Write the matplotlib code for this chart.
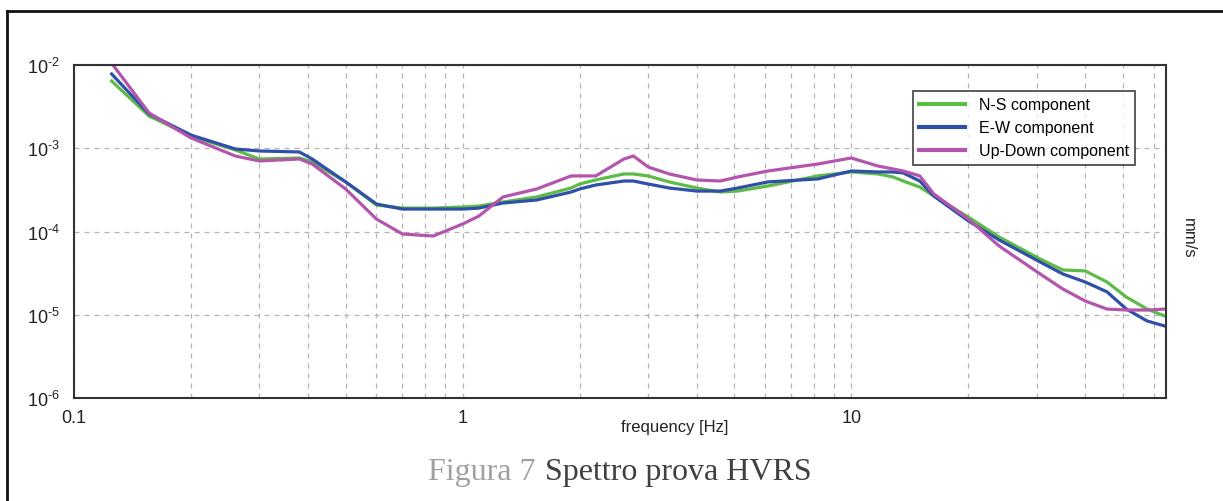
import matplotlib
matplotlib.use("Agg")
from matplotlib import pyplot as plt
from matplotlib.lines import Line2D
from matplotlib.ticker import LogLocator, NullFormatter

plt.rcParams['font.family'] = ['Liberation Sans', 'DejaVu Sans']
plt.rcParams['mathtext.fontset'] = 'custom'
plt.rcParams['mathtext.rm'] = 'Liberation Sans'
plt.rcParams['mathtext.it'] = 'Liberation Sans'

# Frequencies [Hz] sampled along the curves
freq = [0.125, 0.156, 0.2, 0.26, 0.3, 0.38, 0.41, 0.5, 0.6, 0.7, 0.84, 1.0, 1.1,
        1.27, 1.55, 1.9, 2.0, 2.2, 2.6, 2.75, 3.0, 3.4, 4.0, 4.6, 5.1, 6.1, 8.2,
        10, 11.7, 12.8, 13.6, 15, 16.3, 20, 24, 30.6, 35, 40, 45.5, 51, 57.7, 64]

# Amplitude [mm/s]
ns_comp = [6.42e-3, 2.44e-3, 1.40e-3, 9.53e-4, 7.43e-4, 7.64e-4, 6.84e-4, 3.94e-4,
           2.08e-4, 1.91e-4, 1.91e-4, 1.97e-4, 2.02e-4, 2.26e-4, 2.60e-4, 3.33e-4,
           3.72e-4, 4.16e-4, 4.91e-4, 4.91e-4, 4.65e-4, 3.94e-4, 3.33e-4, 2.98e-4,
           3.06e-4, 3.52e-4, 4.65e-4, 5.19e-4, 4.91e-4, 4.52e-4, 4.04e-4, 3.42e-4,
           2.67e-4, 1.49e-4, 8.59e-5, 4.67e-5, 3.45e-5, 3.36e-5, 2.47e-5, 1.63e-5,
           1.17e-5, 9.66e-6]
ew_comp = [7.80e-3, 2.58e-3, 1.44e-3, 9.80e-4, 9.27e-4, 9.02e-4, 7.43e-4, 3.94e-4,
           2.14e-4, 1.86e-4, 1.86e-4, 1.86e-4, 1.91e-4, 2.20e-4, 2.39e-4, 2.98e-4,
           3.24e-4, 3.62e-4, 4.04e-4, 4.04e-4, 3.72e-4, 3.33e-4, 3.06e-4, 3.06e-4,
           3.33e-4, 3.94e-4, 4.28e-4, 5.33e-4, 5.19e-4, 5.19e-4, 5.05e-4, 4.04e-4,
           2.67e-4, 1.34e-4, 7.91e-5, 4.30e-5, 3.09e-5, 2.47e-5, 1.88e-5, 1.17e-5,
           8.41e-6, 7.33e-6]
ud_comp = [1.05e-2, 2.65e-3, 1.33e-3, 8.07e-4, 7.03e-4, 7.43e-4, 6.47e-4, 3.24e-4,
           1.41e-4, 9.33e-5, 8.83e-5, 1.23e-4, 1.53e-4, 2.60e-4, 3.24e-4, 4.65e-4,
           4.65e-4, 4.65e-4, 7.43e-4, 8.07e-4, 5.96e-4, 4.91e-4, 4.16e-4, 4.04e-4,
           4.52e-4, 5.33e-4, 6.47e-4, 7.64e-4, 6.12e-4, 5.64e-4, 5.33e-4, 4.65e-4,
           2.82e-4, 1.41e-4, 6.70e-5, 3.09e-5, 2.04e-5, 1.46e-5, 1.17e-5, 1.14e-5,
           1.14e-5, 1.17e-5]

labels = ['N-S component', 'E-W component', 'Up-Down component']
colors = ['#5cbc46', '#2f4fa8', '#b455ad']

W, H = 1223, 502
fig = plt.figure(figsize=(W / 100, H / 100), dpi=100)
ax = fig.add_axes([74 / W, 1 - 399 / H, (1166 - 74) / W, (399 - 66) / H])

for vals, lab, col in zip([ns_comp, ew_comp, ud_comp], labels, colors):
    ax.plot(freq, vals, color=col, lw=2.3, label=lab, solid_joinstyle='round')

ax.set_xscale('log')
ax.set_yscale('log')
ax.set_xlim(0.1, 64.5)
ax.set_ylim(1e-6, 1e-2)

ax.xaxis.set_minor_locator(LogLocator(base=10, subs=range(2, 10), numticks=20))
ax.xaxis.set_minor_formatter(NullFormatter())
ax.set_xticks([0.1, 1, 10])
ax.set_xticklabels(['0.1', '1', '10'])
ax.set_yticks([1e-6, 1e-5, 1e-4, 1e-3, 1e-2])
ax.set_yticklabels([r'$10^{\text{-}6}$', r'$10^{\text{-}5}$', r'$10^{\text{-}4}$',
                    r'$10^{\text{-}3}$', r'$10^{\text{-}2}$'])
ax.yaxis.set_minor_locator(plt.NullLocator())

ax.tick_params(which='both', length=0, labelsize=13, colors='#222222')
ax.tick_params(axis='x', pad=8)
ax.tick_params(axis='y', pad=10)

grid_kw = dict(color='#b4b4b4', linestyle=(0, (4, 4)), linewidth=0.9)
ax.grid(True, which='major', axis='both', **grid_kw)
ax.grid(True, which='minor', axis='x', **grid_kw)

for sp in ax.spines.values():
    sp.set_color('#333333')
    sp.set_linewidth(1.5)

leg = ax.legend(loc='upper left', bbox_to_anchor=(0.768, 0.922), borderaxespad=0,
                fancybox=False, frameon=True, edgecolor='#111111', fontsize=11.5,
                handlelength=2.9, handletextpad=0.85, labelspacing=0.5,
                borderpad=0.4)
leg.get_frame().set_linewidth(1.2)
for line in leg.get_lines():
    line.set_linewidth(3)

fig.text(675 / W, 1 - 428 / H, 'frequency [Hz]', ha='center', va='center',
         fontsize=12, color='#222222')
fig.text(1188 / W, 1 - 238 / H, 'mm/s', ha='center', va='center', rotation=270,
         fontsize=12, color='#222222')

# caption below the chart
fig.text(428 / W, 1 - 480 / H, 'Figura 7', ha='left', va='baseline',
         fontsize=23, family='Liberation Serif', color='#a0a0a0')
fig.text(545 / W, 1 - 480 / H, 'Spettro prova HVRS', ha='left', va='baseline',
         fontsize=23, family='Liberation Serif', color='#404040')

# outer frame (top and left sides)
fig.add_artist(Line2D([7 / W, 1], [1 - 12 / H, 1 - 12 / H], color='#111111', lw=2,
                      transform=fig.transFigure))
fig.add_artist(Line2D([7 / W, 7 / W], [0, 1 - 12 / H], color='#111111', lw=2,
                      transform=fig.transFigure))

fig.savefig('out.png', dpi=100)
